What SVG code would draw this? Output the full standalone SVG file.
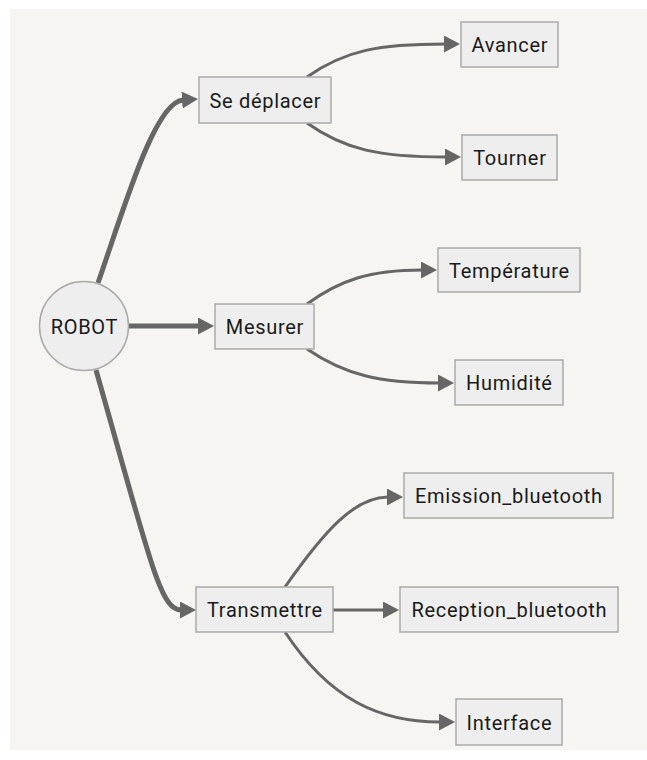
<svg xmlns="http://www.w3.org/2000/svg" width="647" height="760" viewBox="0 0 647 760">
<defs>
<style>
.box{fill:#eeeeee;stroke:#aaaaaa;stroke-width:1.5}
.lbl{font-family:Roboto,"Liberation Sans",sans-serif;font-size:20px;letter-spacing:0.7px;fill:#1a1a1a;text-anchor:middle;dominant-baseline:central}
.e{fill:none;stroke:#666666;stroke-linecap:butt}
.thick{stroke-width:5}
.thin{stroke-width:3}
</style>
<marker id="ah" viewBox="0 0 16 17" markerWidth="16" markerHeight="17" refX="1" refY="8.5" orient="auto" markerUnits="userSpaceOnUse">
<path d="M0,0 L16,8.5 L0,17 Z" fill="#666666"/>
</marker>
</defs>
<rect x="0" y="0" width="647" height="760" fill="#ffffff"/>
<rect x="10" y="9" width="637" height="741" fill="#f6f5f2"/>
<g id="connectors">
<path class="e thick" d="M98,283 C125,205 155,102 183,100" marker-end="url(#ah)"/>
<path class="e thick" d="M129,326 L199,326" marker-end="url(#ah)"/>
<path class="e thick" d="M96,370 C150,560 160,610 181,610" marker-end="url(#ah)"/>
<path class="e thin" d="M307,77 C345,50 380,44 445,44" marker-end="url(#ah)"/>
<path class="e thin" d="M307,123 C345,150 380,157 446,157" marker-end="url(#ah)"/>
<path class="e thin" d="M307,304 C340,280 370,270 422,270" marker-end="url(#ah)"/>
<path class="e thin" d="M307,349 C345,375 380,383 439,383" marker-end="url(#ah)"/>
<path class="e thin" d="M285,587 C325,530 355,497 388,497" marker-end="url(#ah)"/>
<path class="e thin" d="M333,610 L384,610" marker-end="url(#ah)"/>
<path class="e thin" d="M285,632 C330,700 380,722 440,722" marker-end="url(#ah)"/>
</g>
<g id="robot"><circle class="box" cx="84" cy="326" r="44.5"/><text class="lbl" x="84.4" y="327">ROBOT</text></g>
<g id="se-deplacer"><rect class="box" x="199" y="77" width="132" height="46"/><text class="lbl" x="265.4" y="101">Se déplacer</text></g>
<g id="avancer"><rect class="box" x="461" y="22" width="97" height="45"/><text class="lbl" x="509.9" y="45">Avancer</text></g>
<g id="tourner"><rect class="box" x="462" y="135" width="95" height="45"/><text class="lbl" x="509.9" y="158">Tourner</text></g>
<g id="mesurer"><rect class="box" x="215" y="304" width="99" height="45"/><text class="lbl" x="264.9" y="327">Mesurer</text></g>
<g id="temperature"><rect class="box" x="438" y="248" width="142" height="44"/><text class="lbl" x="509.4" y="271">Température</text></g>
<g id="humidite"><rect class="box" x="455" y="360" width="108" height="45"/><text class="lbl" x="509.4" y="383">Humidité</text></g>
<g id="transmettre"><rect class="box" x="196" y="587" width="137" height="45"/><text class="lbl" x="264.9" y="610">Transmettre</text></g>
<g id="emission"><rect class="box" x="404" y="473" width="209" height="45"/><text class="lbl" x="508.9" y="496">Emission_bluetooth</text></g>
<g id="reception"><rect class="box" x="400" y="587" width="218" height="45"/><text class="lbl" x="509.4" y="610">Reception_bluetooth</text></g>
<g id="interface"><rect class="box" x="456" y="699" width="106" height="46"/><text class="lbl" x="509.4" y="723">Interface</text></g>
</svg>
